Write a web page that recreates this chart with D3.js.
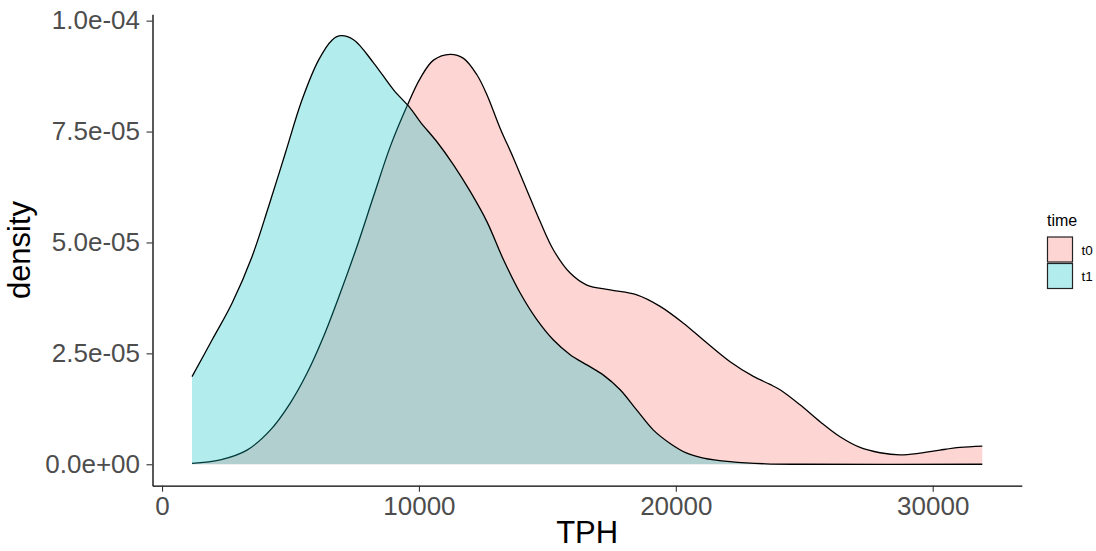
<!DOCTYPE html>
<html>
<head>
<meta charset="utf-8">
<script src="https://cdn.jsdelivr.net/npm/d3@7"></script>
<style>
  body { margin: 0; background: #fff; }
  svg text { font-family: "Liberation Sans", Arial, sans-serif; }
</style>
</head>
<body>
<svg id="chart" width="1096" height="551"></svg>
<script>
// values (density in units of 1e-5)
const groups = ["t0", "t1"];
const groupColors = ["#F8766D", "#00BFC4"];

const tphT0 = [1167, 2268, 3307, 4214, 4992, 5642, 6288, 6938, 7588, 8233, 8883, 9533, 10051, 10568, 11218, 11735, 12257, 12646, 13164, 13681, 14330, 14719, 15237, 15887, 16537, 17444, 18482, 19389, 20296, 21074, 22113, 23019, 23669, 24058, 24837, 25615, 26393, 27171, 27949, 28728, 29506, 30284, 31062, 31930];
const densT0 = [0.02, 0.10, 0.32, 0.77, 1.38, 2.05, 2.88, 3.86, 4.91, 6.04, 7.16, 8.07, 8.70, 9.11, 9.24, 9.15, 8.78, 8.33, 7.57, 6.90, 6.00, 5.47, 4.83, 4.31, 4.04, 3.93, 3.82, 3.56, 3.18, 2.80, 2.31, 1.98, 1.80, 1.68, 1.34, 0.96, 0.62, 0.38, 0.26, 0.21, 0.25, 0.32, 0.38, 0.41];

const tphT1 = [1167, 1946, 2724, 3502, 4148, 4798, 5447, 6093, 6615, 6938, 7455, 8233, 9012, 9661, 10051, 10700, 11346, 11996, 12646, 13292, 13942, 14591, 15237, 15887, 16537, 17183, 17833, 18482, 19128, 19778, 20428, 21074, 22113, 23500, 25000, 31930];
const densT1 = [1.975, 2.80, 3.63, 4.68, 5.81, 7.01, 8.21, 9.11, 9.56, 9.66, 9.57, 9.05, 8.44, 8.03, 7.72, 7.27, 6.75, 6.15, 5.47, 4.61, 3.86, 3.26, 2.80, 2.47, 2.24, 2.01, 1.68, 1.22, 0.77, 0.47, 0.25, 0.14, 0.06, 0.01, 0, 0];

const xTicks = [0, 10000, 20000, 30000];
const yTicks = [0, 2.5e-5, 5e-5, 7.5e-5, 1e-4];

// build series
const series = [
  tphT0.map((t, i) => [t, densT0[i] * 1e-5]),
  tphT1.map((t, i) => [t, densT1[i] * 1e-5]),
];

const svg = d3.select("#chart");

// panel, ggplot style 5% expansion
const panel = { left: 152.5, right: 1021.8, top: 14.3, bottom: 485.7 };
const allX = series.flat().map((d) => d[0]);
const xMin = d3.min(allX), xMax = d3.max(allX);
const xPad = (xMax - xMin) * 0.05;
const yMax = d3.max(series.flat(), (d) => d[1]);

const x = d3.scaleLinear()
  .domain([xMin - xPad, xMax + xPad])
  .range([panel.left, panel.right]);
const y = d3.scaleLinear()
  .domain([-yMax * 0.05, yMax * 1.05])
  .range([panel.bottom, panel.top]);

const curve = d3.curveCatmullRom.alpha(0.5);
const area = d3.area()
  .x((d) => x(d[0]))
  .y0(y(0))
  .y1((d) => y(d[1]))
  .curve(curve);
const line = d3.line()
  .x((d) => x(d[0]))
  .y((d) => y(d[1]))
  .curve(curve);

// areas + upper outlines, t0 first
series.forEach((s, i) => {
  svg.append("path")
    .attr("d", area(s))
    .attr("fill", groupColors[i])
    .attr("fill-opacity", 0.3);
  svg.append("path")
    .attr("d", line(s))
    .attr("fill", "none")
    .attr("stroke", "#000")
    .attr("stroke-width", 1.3);
});

// y tick formatter like R: 2.5e-05
function sci(v) {
  const [m, e] = v.toExponential(1).split("e");
  const sign = e[0] === "-" ? "-" : "+";
  const digits = e.replace(/[+-]/, "").padStart(2, "0");
  return `${m}e${sign}${digits}`;
}

// axes
const xAxis = svg.append("g")
  .attr("transform", `translate(0,${panel.bottom})`)
  .call(d3.axisBottom(x).tickValues(xTicks).tickFormat(d3.format("d"))
    .tickSize(6).tickPadding(5).tickSizeOuter(0));

const yAxis = svg.append("g")
  .attr("transform", `translate(${panel.left},0)`)
  .call(d3.axisLeft(y).tickValues(yTicks).tickFormat(sci)
    .tickSize(6).tickPadding(6.5).tickSizeOuter(0));

[xAxis, yAxis].forEach((g) => {
  g.select(".domain").attr("stroke", "#000").attr("stroke-width", 1.3);
  g.selectAll(".tick line").attr("stroke", "#333").attr("stroke-width", 1.1);
  g.selectAll(".tick text")
    .attr("fill", "#4D4D4D")
    .style("font-size", "26px");
});

// axis titles
svg.append("text")
  .attr("x", (panel.left + panel.right) / 2)
  .attr("y", 543)
  .attr("text-anchor", "middle")
  .style("font-size", "31px")
  .text("TPH");

svg.append("text")
  .attr("transform", `translate(30,${(panel.top + panel.bottom) / 2}) rotate(-90)`)
  .attr("text-anchor", "middle")
  .style("font-size", "31px")
  .text("density");

// legend
const legend = svg.append("g").attr("transform", "translate(1047,0)");
legend.append("text")
  .attr("x", 0)
  .attr("y", 226)
  .style("font-size", "16px")
  .text("time");

const keySize = 25;
groups.forEach((g, i) => {
  const top = 237 + i * (keySize + 1.5);
  legend.append("rect")
    .attr("x", 0.5)
    .attr("y", top)
    .attr("width", keySize)
    .attr("height", keySize)
    .attr("fill", groupColors[i])
    .attr("fill-opacity", 0.3)
    .attr("stroke", "#222")
    .attr("stroke-width", 1.2);
  legend.append("text")
    .attr("x", 34.5)
    .attr("y", top + keySize / 2 + 5)
    .style("font-size", "13.5px")
    .text(g);
});
</script>
</body>
</html>
